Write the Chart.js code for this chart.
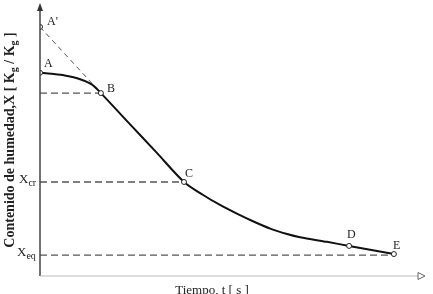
<!DOCTYPE html>
<html><head><meta charset="utf-8">
<script src="https://cdn.jsdelivr.net/npm/chart.js@4.4.0/dist/chart.umd.min.js"></script>
<style>html,body{margin:0;padding:0;background:#fff;}canvas{display:block;}</style>
</head><body>
<canvas id="c" width="433" height="294"></canvas>
<script>
// Drying curve (arbitrary units: time 0-100, moisture 0-100)
const timeCurve = [0, 2.95, 6.45, 9.9, 13.4, 15.9, 23.1, 30.4, 37.6, 42.6, 47.0, 51.4, 55.6, 60.1, 64.5, 67.9, 74.9, 80.7, 92.4];
const moistureCurve = [75.0, 74.6, 74.0, 72.9, 70.8, 67.5, 56.6, 45.6, 34.7, 29.9, 26.2, 23.0, 20.2, 17.5, 15.5, 14.3, 12.6, 11.1, 8.1];
const keyLabels = ["A'", "A", "B", "C", "D", "E"];
const keyTime = [0, 0, 15.9, 37.6, 80.7, 92.4];
const keyMoisture = [91.9, 75.0, 67.5, 34.7, 11.1, 8.1];
const extrapTime = [0, 15.9];          // A' -> B
const extrapMoisture = [91.9, 67.5];
const levelNames = ["", "cr", "eq"];   // B level, X_cr, X_eq
const levelMoisture = [67.5, 34.7, 7.7];
const levelEndTime = [15.9, 37.6, 92.4];
const yTitle = ["Contenido de humedad,X [ K", "g", " / K", "g", " ]"];
const xTitle = "Tiempo, t [ s ]";

const curve = timeCurve.map((t, i) => ({x: t, y: moistureCurve[i]}));
const keyPts = keyTime.map((t, i) => ({x: t, y: keyMoisture[i]}));
const extrap = extrapTime.map((t, i) => ({x: t, y: extrapMoisture[i]}));
const levelSets = levelMoisture.map((m, i) => ({
  type: 'line', data: [{x: 0, y: m}, {x: levelEndTime[i], y: m}],
  borderColor: '#555', borderWidth: 1.4, borderDash: [7, 4], pointRadius: 0, order: 5
}));

const deco = {
  id: 'deco',
  afterDatasetsDraw(chart) {
    const ctx = chart.ctx, xs = chart.scales.x, ys = chart.scales.y;
    const x0 = xs.getPixelForValue(0), y0 = ys.getPixelForValue(0);
    ctx.save();
    // y axis
    ctx.strokeStyle = '#444'; ctx.lineWidth = 1.5;
    ctx.beginPath(); ctx.moveTo(x0, y0); ctx.lineTo(x0, 6); ctx.stroke();
    ctx.fillStyle = '#333';
    ctx.beginPath(); ctx.moveTo(x0, 3); ctx.lineTo(x0 - 3, 11); ctx.lineTo(x0 + 3, 11); ctx.closePath(); ctx.fill();
    // x axis
    ctx.strokeStyle = '#bbb'; ctx.lineWidth = 1.2;
    ctx.beginPath(); ctx.moveTo(x0, y0); ctx.lineTo(418, y0); ctx.stroke();
    ctx.strokeStyle = '#666'; ctx.lineWidth = 1; ctx.fillStyle = '#fff';
    ctx.beginPath(); ctx.moveTo(418, y0 - 3.5); ctx.lineTo(425, y0); ctx.lineTo(418, y0 + 3.5); ctx.closePath(); ctx.fill(); ctx.stroke();
    // point labels
    ctx.fillStyle = '#222'; ctx.font = '12px "Liberation Serif"'; ctx.textBaseline = 'alphabetic'; ctx.textAlign = 'left';
    const offs = [[7, -2], [4, -6], [6, -1], [1, -5], [-2, -8], [-1, -5]];
    keyLabels.forEach((l, i) => {
      const px = xs.getPixelForValue(keyTime[i]), py = ys.getPixelForValue(keyMoisture[i]);
      ctx.fillText(l, px + offs[i][0], py + offs[i][1]);
    });
    // level labels X_cr, X_eq
    levelNames.forEach((n, i) => {
      if (!n) return;
      const py = ys.getPixelForValue(levelMoisture[i]);
      ctx.font = '13px "Liberation Serif"';
      const xStart = i === 1 ? 19 : 17;
      ctx.fillText('X', xStart, py + 1);
      const w = ctx.measureText('X').width;
      ctx.font = '10px "Liberation Serif"';
      ctx.fillText(n, xStart + w, py + 4);
    });
    // y title (rotated)
    ctx.save();
    ctx.translate(14, 140); ctx.rotate(-Math.PI / 2);
    const fMain = 'bold 14px "Liberation Serif"', fSub = 'bold 10px "Liberation Serif"';
    let total = 0;
    yTitle.forEach((s, i) => { ctx.font = (i === 1 || i === 3) ? fSub : fMain; total += ctx.measureText(s).width; });
    let cx = -total / 2;
    yTitle.forEach((s, i) => {
      const sub = (i === 1 || i === 3);
      ctx.font = sub ? fSub : fMain;
      ctx.fillText(s, cx, sub ? 3 : 0);
      cx += ctx.measureText(s).width;
    });
    ctx.restore();
    // x title
    ctx.font = '13px "Liberation Serif"'; ctx.textAlign = 'center';
    ctx.fillText(xTitle, 212, 294);
    ctx.restore();
  }
};

new Chart(document.getElementById('c'), {
  type: 'line',
  data: {
    datasets: [
      {data: curve, borderColor: '#111', borderWidth: 2, pointRadius: 0, tension: 0.3, order: 2},
      {data: extrap, borderColor: '#555', borderWidth: 1, borderDash: [5, 4], pointRadius: 0, order: 4},
      ...levelSets,
      {data: keyPts, showLine: false, pointRadius: 2.5, pointBackgroundColor: '#fff', pointBorderColor: '#222', pointBorderWidth: 1, order: 1}
    ]
  },
  options: {
    responsive: false, animation: false, events: [],
    layout: {padding: {left: 40, right: 10, top: 5, bottom: 18}},
    plugins: {legend: {display: false}, tooltip: {enabled: false}},
    scales: {
      x: {type: 'linear', min: 0, max: 100, display: false},
      y: {type: 'linear', min: 0, max: 100, display: false}
    }
  },
  plugins: [deco]
});
</script>
</body></html>
